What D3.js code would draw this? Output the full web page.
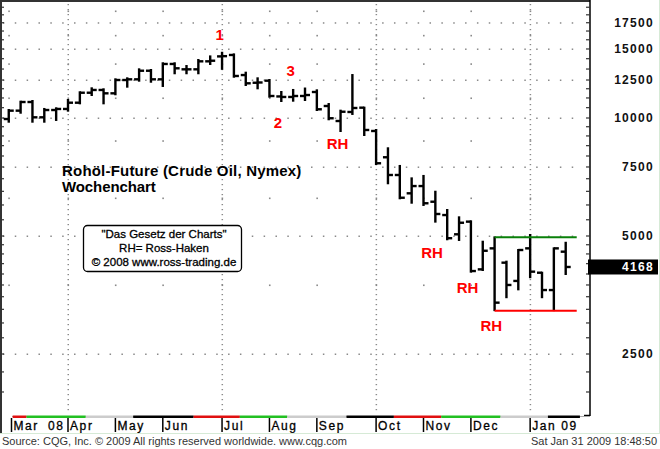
<!DOCTYPE html>
<html><head><meta charset="utf-8">
<script src="https://cdn.jsdelivr.net/npm/d3@7"></script>
<style>
html,body{margin:0;padding:0;background:#fff;}
svg{display:block;font-family:"Liberation Sans",Arial,sans-serif;}
</style></head><body>
<svg id="c" width="660" height="449"></svg>
<script>
// ---------- data (prices in US cents) ----------
const weeks = ["2008-03-03","2008-03-10","2008-03-17","2008-03-24","2008-03-31",
  "2008-04-07","2008-04-14","2008-04-21","2008-04-28",
  "2008-05-05","2008-05-12","2008-05-19","2008-05-26",
  "2008-06-02","2008-06-09","2008-06-16","2008-06-23","2008-06-30",
  "2008-07-07","2008-07-14","2008-07-21","2008-07-28",
  "2008-08-04","2008-08-11","2008-08-18","2008-08-25",
  "2008-09-01","2008-09-08","2008-09-15","2008-09-22","2008-09-29",
  "2008-10-06","2008-10-13","2008-10-20","2008-10-27",
  "2008-11-03","2008-11-10","2008-11-17","2008-11-24",
  "2008-12-01","2008-12-08","2008-12-15","2008-12-22","2008-12-29",
  "2009-01-05","2009-01-12","2009-01-19","2009-01-26"];
const open  = [9940,10440,10985,10040,10480,10545,10940,11600,11790,11560,12500,12550,13200,12550,13735,13310,13310,13950,14360,14480,12870,12300,12450,11350,11315,11380,11650,10730,9825,10360,10625,9265,7940,7155,6425,6705,6115,5655,5050,5440,4110,4650,4275,3840,4650,4030,3640,4560];
const high  = [10480,11005,11050,10545,10585,11115,11630,11905,11835,12550,12625,13310,13255,13790,13790,13570,14060,14360,14670,14530,13050,12625,12500,11650,11790,11890,11765,10855,10440,12870,10625,9320,8370,7545,7015,7115,6485,5825,5580,5450,4835,4960,4300,4605,5030,4030,4650,4805];
const low   = [9785,10315,9785,9785,9885,10440,10900,11445,10900,11495,12020,12450,12375,12070,13005,13005,13005,13735,13350,12745,12140,11905,11335,11050,11070,11115,10480,9925,9265,10240,9050,7630,6815,6240,6080,6000,5440,4905,4885,4055,4095,3235,3490,3655,3925,3490,3235,4000];
const close = [10440,10985,10040,10480,10545,10940,11600,11790,11560,12500,12550,13200,12550,13735,13390,13310,13950,14000,14380,12800,12260,12320,11380,11315,11380,11445,10525,9985,10375,10605,9320,7665,7155,6260,6705,6060,5690,4935,5405,4070,4585,3380,3750,4605,4055,3640,4650,4168];
const priceTicks = [2500,5000,7500,10000,12500,15000,17500];
const minorTicks = [2000,2250,2750,3000,3250,3500,3750,4000,4250,4500,4750,5500,6000,6500,7000,8000,8500,9000,9500,10625,11250,11875,13333,14167,15833,16667,18333,19167];
const halfLevels = [3750,6250,8750,11250,13750,16250,18750];
const monthLabels = ["Mar","Apr","May","Jun","Jul","Aug","Sep","Oct","Nov","Dec","Jan 09"];
const monthStart  = [0,5,9,13,18,22,26,31,35,39,44];
const quarterStart = [5,18,31,44];
const stripFrom   = [0.33,1.5,6.5,10.5,15.6,19.5,23.5,28.5,32.5,36.5,41.5,45.5];
const stripColors = ["#e01010","#22c022","#cccccc","#000000","#e01010","#22c022","#cccccc","#000000","#e01010","#22c022","#cccccc","#000000"];
const lastPrice = 4168;
const rangeHigh = 4960, rangeLow = 3225, rangeFrom = 41, rangeTo = 47.93;
const annoText  = ["1","3","2","RH","RH","RH","RH"];
const annoWeek  = [17.8,23.8,22.72,27.74,35.72,38.71,40.72];
const annoPrice = [16310,13180,9728,8584,4538,3695,2947];

// ---------- layout ----------
const svg = d3.select("#c");
const plotR = 590, plotB = 415;
const x = d3.scaleLinear().domain([0, weeks.length - 1]).range([8.75, 565.7]);
const y = d3.scaleLog().domain([2500, 17500]).range([354, 22.73]);

// background grid: major levels dotted at each bar
const grid = svg.append("g").attr("fill", "#8a8a8a");
priceTicks.forEach(v => {
  grid.selectAll(null).data(d3.range(-0.45, weeks.length)).join("rect")
    .attr("x", d => x(d) - 0.5).attr("y", y(v) - 0.5).attr("width", 1.5).attr("height", 1.5);
});
// quarterly dense vertical dotted lines
quarterStart.forEach(w => {
  grid.selectAll(null).data(d3.range(4, plotB - 2, 5)).join("rect")
    .attr("x", x(w) - 0.5).attr("y", d => d).attr("width", 1.5).attr("height", 1.2);
});
// month verticals: dots at half levels
monthStart.forEach(w => {
  grid.selectAll(null).data(halfLevels).join("rect")
    .attr("x", x(w) - 0.5).attr("y", d => y(d) - 0.5).attr("width", 1.6).attr("height", 1.6);
});

// frame
svg.append("rect").attr("x", 0).attr("y", 0).attr("width", plotR).attr("height", 2).attr("fill", "#333");
svg.append("rect").attr("x", 0).attr("y", 0).attr("width", 2).attr("height", 433).attr("fill", "#333");
svg.append("line").attr("x1", plotR).attr("x2", plotR).attr("y1", 0).attr("y2", plotB + 1)
  .attr("stroke", "#000").attr("stroke-width", 1.5);
svg.append("line").attr("x1", plotR - 6).attr("x2", plotR).attr("y1", plotB + 0.5).attr("y2", plotB + 0.5)
  .attr("stroke", "#000").attr("stroke-width", 1.5);

// axis ticks (right side, pointing in; mirrored on left)
const allTicks = priceTicks.concat(minorTicks);
svg.append("g").selectAll("line").data(allTicks).join("line")
  .attr("x1", plotR - 4).attr("x2", plotR).attr("y1", d => y(d)).attr("y2", d => y(d))
  .attr("stroke", "#333").attr("stroke-width", 1.2);
svg.append("g").selectAll("line").data(allTicks).join("line")
  .attr("x1", 1).attr("x2", 4).attr("y1", d => y(d)).attr("y2", d => y(d))
  .attr("stroke", "#333").attr("stroke-width", 1.2);

// right axis labels
svg.append("g").selectAll("text").data(priceTicks).join("text")
  .attr("x", 654).attr("y", d => y(d)).attr("dy", "0.36em").attr("text-anchor", "end")
  .attr("font-size", 12).attr("font-weight", "bold").attr("letter-spacing", 1.3).attr("fill", "#111")
  .text(d => d);

// last price box
svg.append("rect").attr("x", 588).attr("y", y(lastPrice) - 7.5).attr("width", 70).attr("height", 15).attr("fill", "#000");
svg.append("text").attr("x", 654).attr("y", y(lastPrice)).attr("dy", "0.36em").attr("text-anchor", "end")
  .attr("font-size", 12).attr("font-weight", "bold").attr("letter-spacing", 1.3).attr("fill", "#fff").text(lastPrice);

// OHLC bars
const bars = weeks.map((w, i) => ({ w, i, o: open[i], h: high[i], l: low[i], c: close[i] }));
const gb = svg.append("g").attr("stroke", "#000").attr("stroke-width", 2.4);
gb.selectAll("line.hl").data(bars).join("line").attr("class", "hl")
  .attr("x1", d => x(d.i)).attr("x2", d => x(d.i)).attr("y1", d => y(d.h) - 1).attr("y2", d => y(d.l) + 1);
gb.selectAll("line.op").data(bars).join("line").attr("class", "op")
  .attr("x1", d => x(d.i) - 5).attr("x2", d => x(d.i)).attr("y1", d => y(d.o)).attr("y2", d => y(d.o));
gb.selectAll("line.cl").data(bars).join("line").attr("class", "cl")
  .attr("x1", d => x(d.i)).attr("x2", d => x(d.i) + 5).attr("y1", d => y(d.c)).attr("y2", d => y(d.c));

// range lines
svg.append("line").attr("x1", x(rangeFrom)).attr("x2", x(rangeTo)).attr("y1", y(rangeHigh)).attr("y2", y(rangeHigh))
  .attr("stroke", "#0a800a").attr("stroke-width", 2);
svg.append("line").attr("x1", x(rangeFrom)).attr("x2", x(rangeTo)).attr("y1", y(rangeLow)).attr("y2", y(rangeLow))
  .attr("stroke", "#ff0000").attr("stroke-width", 2);

// annotations
svg.append("g").selectAll("text").data(annoText).join("text")
  .attr("x", (d, i) => x(annoWeek[i])).attr("y", (d, i) => y(annoPrice[i])).attr("dy", "0.36em")
  .attr("text-anchor", "middle").attr("font-size", 15).attr("font-weight", "bold").attr("fill", "#ff0000")
  .text(d => d);

// title
svg.append("text").attr("x", 62).attr("y", 176).attr("font-size", 15).attr("font-weight", "bold")
  .attr("letter-spacing", 0.2).attr("fill", "#000")
  .text("Rohöl-Future (Crude Oil, Nymex)");
svg.append("text").attr("x", 62).attr("y", 192).attr("font-size", 15).attr("font-weight", "bold")
  .attr("letter-spacing", -0.1).attr("fill", "#000")
  .text("Wochenchart");

// info box
svg.append("rect").attr("x", 83.5).attr("y", 225.5).attr("width", 158).attr("height", 46).attr("rx", 4)
  .attr("fill", "#fff").attr("stroke", "#000").attr("stroke-width", 1.3);
const boxLines = ["\"Das Gesetz der Charts\"", "RH= Ross-Haken", "© 2008 www.ross-trading.de"];
svg.append("g").selectAll("text").data(boxLines).join("text")
  .attr("x", 164).attr("y", (d, i) => 238 + i * 14).attr("text-anchor", "middle")
  .attr("font-size", 11.5).attr("fill", "#000").attr("stroke", "#000").attr("stroke-width", 0.3)
  .text(d => d);

// colour strip under plot
svg.append("line").attr("x1", 12).attr("x2", plotR).attr("y1", 416.5).attr("y2", 416.5).attr("stroke", "#aaa").attr("stroke-width", 1);
svg.append("g").selectAll("rect").data(stripFrom).join("rect")
  .attr("x", d => x(d)).attr("y", 415.5)
  .attr("width", (d, i) => x(i < stripFrom.length - 1 ? stripFrom[i + 1] : 48.2) - x(d))
  .attr("height", 2.5).attr("fill", (d, i) => stripColors[i]);

// month axis
const gm = svg.append("g");
gm.selectAll("line").data(monthStart).join("line")
  .attr("x1", (d, i) => i === 0 ? 11.5 : x(d)).attr("x2", (d, i) => i === 0 ? 11.5 : x(d))
  .attr("y1", 418).attr("y2", 432).attr("stroke", "#000").attr("stroke-width", 1.5);
gm.selectAll("text").data(monthLabels).join("text")
  .attr("x", (d, i) => (i === 0 ? 11.5 : x(monthStart[i])) + 2).attr("y", 430)
  .attr("font-size", 12).attr("letter-spacing", 1.6).attr("fill", "#000").attr("stroke", "#000").attr("stroke-width", 0.3)
  .text(d => d);
gm.append("text").attr("x", 48).attr("y", 430).attr("font-size", 12).attr("letter-spacing", 1.6)
  .attr("fill", "#000").attr("stroke", "#000").attr("stroke-width", 0.3).text("08");

// outer light border
svg.append("line").attr("x1", 0).attr("x2", 660).attr("y1", 433.5).attr("y2", 433.5).attr("stroke", "#d6ead6").attr("stroke-width", 1);
svg.append("line").attr("x1", 659.5).attr("x2", 659.5).attr("y1", 0).attr("y2", 434).attr("stroke", "#d6ead6").attr("stroke-width", 1);

// footer
svg.append("text").attr("x", 2).attr("y", 445).attr("font-size", 11).attr("fill", "#333")
  .text("Source: CQG, Inc. © 2009 All rights reserved worldwide. www.cqg.com");
svg.append("text").attr("x", 657).attr("y", 445).attr("text-anchor", "end").attr("font-size", 11).attr("fill", "#333")
  .text("Sat Jan 31 2009 18:48:50");
</script>
</body></html>
